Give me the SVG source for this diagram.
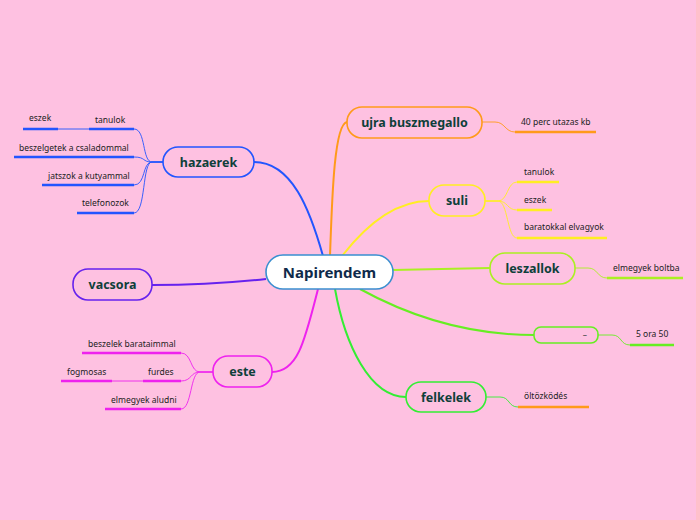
<svg xmlns="http://www.w3.org/2000/svg" width="696" height="520" viewBox="0 0 696 520">
<style>
.bg{fill:#fec1e1}
.node{stroke-width:1.6}
.lbl{font-family:"Noto Sans","Open Sans",sans-serif;font-weight:bold;font-size:12.5px;fill:#0e3f3a;text-anchor:middle}
.sub{font-family:"Noto Sans","Open Sans",sans-serif;font-size:8.5px;fill:#222}
.br{fill:none;stroke-width:2}
.tw{fill:none;stroke-width:0.9}
.ul{fill:none;stroke-width:2.6}
</style>
<rect class="bg" x="0" y="0" width="696" height="520"/>
<g id="connectors">
  <path class="br" stroke="#2255ff" d="M254 162 C292 162 310 210 323 256"/>
  <path class="br" stroke="#ff9a1a" d="M330 256 C332 200 334 124 347 122"/>
  <path class="br" stroke="#ffee22" d="M342 256 C370 220 398 201 429 201"/>
  <path class="br" stroke="#aaf022" d="M393 270 L490 268"/>
  <path class="br" stroke="#66ee22" d="M360 289 C420 322 480 335 534 335"/>
  <path class="br" stroke="#33ee33" d="M335 289 C345 345 370 397 406 397"/>
  <path class="br" stroke="#6622ee" d="M266 279 C220 284 190 285 152 285"/>
  <path class="br" stroke="#ee22ee" d="M318 289 C305 340 298 372 272 372"/>
  <!-- hazaerek children -->
  <g stroke="#2255ff">
    <path class="tw" d="M163 162 L152 162 C142 162 146 129 134 129"/>
    <path class="tw" d="M163 162 L152 162 C142 162 146 157 134 157"/>
    <path class="tw" d="M163 162 L152 162 C142 162 146 185 134 185"/>
    <path class="tw" d="M163 162 L152 162 C142 162 146 213 134 213"/>
    <path class="tw" d="M89 129 L58 129"/>
    <path class="ul" d="M89 129 L134 129"/>
    <path class="ul" d="M23 129 L58 129"/>
    <path class="ul" d="M14 157 L134 157"/>
    <path class="ul" d="M42 185 L134 185"/>
    <path class="ul" d="M77 213 L134 213"/>
  </g>
  <!-- este children -->
  <g stroke="#ee22ee">
    <path class="tw" d="M213 372 L200 372 C190 372 192 353 181 353"/>
    <path class="tw" d="M213 372 L200 372 C190 372 192 381 181 381"/>
    <path class="tw" d="M213 372 L200 372 C190 372 192 409 181 409"/>
    <path class="tw" d="M143 381 L112 381"/>
    <path class="ul" d="M82 353 L181 353"/>
    <path class="ul" d="M143 381 L181 381"/>
    <path class="ul" d="M61 381 L112 381"/>
    <path class="ul" d="M105 409 L181 409"/>
  </g>
  <!-- ujra buszmegallo child -->
  <path class="tw" stroke="#ff9a1a" d="M482 122 L495 122 C505 122 505 132 515 132"/>
  <path class="ul" stroke="#ff9a1a" d="M515 132 L596 132"/>
  <!-- suli children -->
  <g stroke="#ffee22">
    <path class="tw" d="M485 201 L498 201 C508 201 507 182 517 182"/>
    <path class="tw" d="M485 201 L498 201 C508 201 507 210 517 210"/>
    <path class="tw" d="M485 201 L498 201 C508 201 507 238 517 238"/>
    <path class="ul" d="M517 182 L559 182"/>
    <path class="ul" d="M517 210 L552 210"/>
    <path class="ul" d="M517 238 L607 238"/>
  </g>
  <!-- leszallok child -->
  <path class="tw" stroke="#aaf022" d="M575 268 L588 268 C598 268 597 278 607 278"/>
  <path class="ul" stroke="#aaf022" d="M607 278 L683 278"/>
  <!-- empty node child -->
  <path class="tw" stroke="#66ee22" d="M598 335 L612 335 C622 335 620 345 630 345"/>
  <path class="ul" stroke="#66ee22" d="M630 345 L674 345"/>
  <!-- felkelek child -->
  <path class="tw" stroke="#33ee33" d="M486 397 L500 397 C510 397 508 407 518 407"/>
  <path class="ul" stroke="#ff9a1a" d="M518 407 L589 407"/>
</g>
<g id="center">
  <rect x="266" y="255" width="127" height="34" rx="17" fill="#ffffff" stroke="#3a8fd0" stroke-width="1.6"/>
  <text x="329.5" y="277.5" font-family="Noto Sans, Open Sans, sans-serif" font-weight="bold" font-size="15" fill="#0f2a4a" text-anchor="middle">Napirendem</text>
</g>
<g id="hazaerek">
  <rect class="node" x="163" y="147" width="91" height="30" rx="15" fill="none" stroke="#2255ff"/>
  <text class="lbl" x="208.5" y="166.5">hazaerek</text>
</g>
<g id="vacsora">
  <rect class="node" x="73" y="269" width="79" height="31" rx="15" fill="none" stroke="#6622ee"/>
  <text class="lbl" x="112.5" y="289">vacsora</text>
</g>
<g id="este">
  <rect class="node" x="213" y="356" width="59" height="31" rx="15" fill="none" stroke="#ee22ee"/>
  <text class="lbl" x="242.5" y="376">este</text>
</g>
<g id="ujra_buszmegallo">
  <rect class="node" x="347" y="107" width="135" height="31" rx="15" fill="none" stroke="#ff9a1a"/>
  <text class="lbl" x="414.5" y="127">ujra buszmegallo</text>
</g>
<g id="suli">
  <rect class="node" x="429" y="185" width="56" height="31" rx="15" fill="none" stroke="#ffee22"/>
  <text class="lbl" x="457" y="205">suli</text>
</g>
<g id="leszallok">
  <rect class="node" x="490" y="253" width="85" height="31" rx="15" fill="none" stroke="#aaf022"/>
  <text class="lbl" x="532.5" y="273">leszallok</text>
</g>
<g id="empty">
  <rect class="node" x="534" y="327" width="64" height="16" rx="7" fill="none" stroke="#66ee22"/>
  <text x="585" y="338" font-family="Noto Sans, sans-serif" font-size="8.5" fill="#444" text-anchor="middle">–</text>
</g>
<g id="felkelek">
  <rect class="node" x="406" y="382" width="80" height="30" rx="15" fill="none" stroke="#33ee33"/>
  <text class="lbl" x="446" y="401.5">felkelek</text>
</g>
<g id="labels">
  <text class="sub" x="95" y="123">tanulok</text>
  <text class="sub" x="29" y="121">eszek</text>
  <text class="sub" x="19" y="151">beszelgetek a csaladommal</text>
  <text class="sub" x="48" y="179">jatszok a kutyammal</text>
  <text class="sub" x="82" y="206">telefonozok</text>
  <text class="sub" x="88" y="347">beszelek barataimmal</text>
  <text class="sub" x="148" y="375">furdes</text>
  <text class="sub" x="67" y="375">fogmosas</text>
  <text class="sub" x="111" y="403">elmegyek aludni</text>
  <text class="sub" x="521" y="125">40 perc utazas kb</text>
  <text class="sub" x="524" y="175">tanulok</text>
  <text class="sub" x="524" y="203">eszek</text>
  <text class="sub" x="524" y="230">baratokkal elvagyok</text>
  <text class="sub" x="613" y="271">elmegyek boltba</text>
  <text class="sub" x="636" y="337">5 ora 50</text>
  <text class="sub" x="524" y="399">öltözködés</text>
</g>
</svg>
